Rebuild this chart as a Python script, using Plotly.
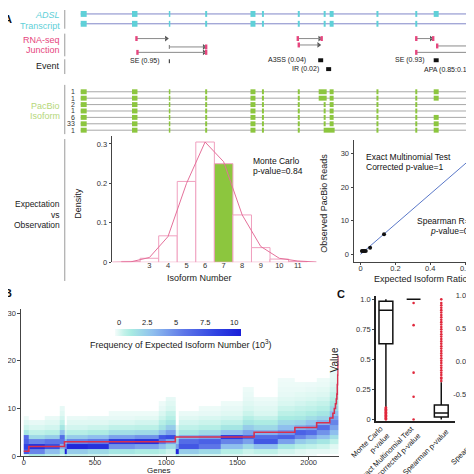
import plotly.graph_objects as go

FONT = "Liberation Sans, Arial, sans-serif"
S = 474.0


def X(p):
    return p / S


def Y(p):
    return 1 - p / S


# ---------------- Panel A : gene structure (positions in gene units) ----------------
exon_start = [0, 51.5, 88.5, 125, 170.5, 182, 218, 244, 250, 297, 336, 354.5, 239, 244]
exon_end = [6, 57, 90, 127, 175.5, 184, 220, 246, 254, 299, 338, 359.5, 247, 255]
gene_end = 401

transcript_rows = [4, 14]
transcript_exons = [[0, 1, 2, 3, 4, 5, 6, 7, 8, 9, 10, 11],
                    [0, 1, 2, 3, 4, 5, 6, 7, 8, 9, 10]]

junc_start = [56, 89, 57, 218, 219, 337, 358, 337]
junc_end = [86, 126, 126, 242, 239, 354, 401, 401]
junc_row = [29, 37.5, 43, 29, 35.5, 29, 36.5, 43]
junc_start_pink = [True, False, True, True, True, True, True, True]
junc_end_pink = [False, True, True, True, False, True, False, False]

event_text = ["SE (0.95)", "A3SS (0.04)", "IR (0.02)", "SE (0.93)", "APA (0.85:0.15)"]
event_text_end = [82, 228, 241, 348, 396]
event_row = [52, 51, 60, 51, 61]
event_mark = [89, 241, 249, 357, None]
event_mark_kind = ["tick", "box", "box", "box", None]

pacbio_counts = ["1", "1", "2", "1", "6", "33", "1"]
pacbio_rows = [83, 89.5, 96, 102.5, 109, 115.5, 122]
pacbio_exons = [
    [0, 1, 2, 3, 4, 5, 6, 12, 8, 9, 10, 11],
    [0, 1, 2, 3, 4, 5, 6, 12, 8, 9, 10, 11],
    [0, 1, 2, 3, 4, 5, 6, 7, 8, 9, 10],
    [0, 1, 2, 3, 4, 5, 6, 7, 8, 9, 10],
    [0, 1, 2, 3, 4, 5, 6, 7, 8, 9, 10, 11],
    [0, 1, 2, 3, 4, 5, 6, 7, 8, 9, 10, 11],
    [0, 1, 2, 3, 4, 5, 6, 13, 9, 10, 11],
]

# ---------------- Panel A : histogram (Monte Carlo) ----------------
hist_bins = [2, 3, 4, 5, 6, 7, 8, 9, 10, 11]
hist_density = [0.002, 0.01, 0.067, 0.205, 0.305, 0.25, 0.12, 0.037, 0.008, 0.002]
observed_number = 7
curve_x = [1, 2, 3, 4, 5, 6, 7, 8, 9, 10, 11, 12]
curve_y = [0, 0.001, 0.012, 0.065, 0.2, 0.305, 0.255, 0.12, 0.04, 0.01, 0.003, 0.0005]

# ---------------- Panel A : scatter ----------------
expected_ratio = [0.008, 0.015, 0.022, 0.03, 0.055, 0.135, 0.73]
observed_reads = [1, 1, 1, 1, 2, 6, 33]
fit_x = [0, 0.76]
fit_y = [0, 34.2]

# ---------------- Panel B : heatmap ----------------
block_edges = [0, 36, 150, 250, 286, 300, 450, 600, 780, 950, 1000, 1064, 1085,
               1230, 1380, 1540, 1617, 1780, 1903, 1980, 2056, 2148, 2210]
iso_levels = list(range(19))
block_freq = [
    [0.4, 7, 8, 6.5, 6, 1.5, 0.6, 0.3, 0.1],
    [1.2, 5, 9, 5, 2, 0.8, 0.4, 0.2],
    [0.8, 3, 7.5, 5.5, 2.5, 1, 0.5, 0.3, 0.15],
    [0.4, 1.5, 3.5, 5.5, 6, 3, 1.5, 0.8, 0.5, 0.3, 0.2],
    [1, 10, 5, 3, 1.5, 0.6, 0.3],
    [0.6, 2.5, 9.5, 5, 2.5, 1, 0.5, 0.3, 0.15],
    [0.5, 2, 9, 5.5, 3, 1.2, 0.6, 0.3, 0.2],
    [0.3, 1.5, 4.5, 8.5, 4, 1.8, 0.8, 0.4, 0.2, 0.1],
    [0.3, 1.2, 4, 9, 4.5, 2, 0.9, 0.5, 0.25, 0.1],
    [0.2, 1, 3, 5.5, 7, 3, 1.6, 1, 0.6, 0.4, 0.2, 0.1],
    [0.1, 0.6, 2, 4, 7.5, 4, 2.5, 1.5, 1, 0.7, 0.4, 0.3, 0.2],
    [0.8, 9.5, 4, 2.5, 1.2, 0.6, 0.3],
    [0.5, 2.5, 7, 6, 3.5, 1.5, 0.8, 0.5, 0.3, 0.15],
    [0.4, 2, 5.5, 6.5, 4, 2, 1, 0.6, 0.4, 0.2, 0.1],
    [0.3, 1, 3, 5, 8.5, 3, 1.5, 0.8, 0.5, 0.3, 0.2, 0.1],
    [0.2, 0.6, 2, 4, 6.5, 4, 2.5, 1.5, 1, 0.6, 0.4, 0.3, 0.2, 0.15, 0.1],
    [0.2, 0.8, 3, 7, 6, 3.5, 2, 1.2, 0.7, 0.4, 0.3, 0.2, 0.1],
    [0.1, 0.5, 1.5, 4, 6.5, 4.5, 3, 2, 1.3, 0.9, 0.6, 0.4, 0.3, 0.2, 0.15, 0.1, 0.08],
    [0.1, 0.3, 1, 2.5, 5, 6.5, 3.5, 2.2, 1.4, 1, 0.7, 0.5, 0.35, 0.25, 0.15, 0.1],
    [0.05, 0.2, 0.8, 2, 4, 6, 4, 2.8, 1.8, 1.2, 0.8, 0.6, 0.4, 0.3, 0.2, 0.12],
    [0, 0.2, 0.6, 1.5, 3, 4.5, 6, 3.5, 2.2, 1.5, 1, 0.7, 0.5, 0.35, 0.25, 0.15, 0.1],
    [0, 0.1, 0.3, 0.8, 1.8, 3, 4, 5, 4, 3, 2, 1.4, 1, 0.7, 0.5, 0.35, 0.25, 0.2, 0.15],
]
obs_gene_start = [0, 36, 286, 1064, 1617, 1903, 2056, 2148, 2170, 2180, 2188, 2194,
                  2198, 2201, 2204, 2206, 2208, 2210]
obs_level = [1, 2, 3, 4, 5, 6, 7, 8, 9, 10, 11, 12, 13, 15, 17, 19, 21, 21]
cbar_ticks = [0, 2.5, 5, 7.5, 10]
cbar_ticktext = ["0", "2.5", "5", "7.5", "10"]

# ---------------- Panel C / D : box plots ----------------
c_names = ["Monte Carlo p-value", "Exact Multinomial Test corrected p-value", "Spearman p-value"]
c_q1 = [0.63, 1.0, 0.02]
c_median = [0.91, 1.0, 0.055]
c_q3 = [0.985, 1.0, 0.12]
c_low = [0.1, 1.0, 0.0]
c_high = [1.0, 1.0, 0.31]
mc_outliers = [0.1, 0.095, 0.09, 0.085, 0.08, 0.075, 0.07, 0.065, 0.06, 0.055, 0.05,
               0.045, 0.04, 0.035, 0.03, 0.025, 0.02, 0.015, 0.01, 0.005, 0.0]
emt_outliers = [0.97, 0.785, 0.39, 0.19, 0.0]
sp_outliers = [0.32, 0.34, 0.35, 0.37, 0.39, 0.41, 0.43, 0.45, 0.47, 0.49, 0.51, 0.53,
               0.55, 0.57, 0.59, 0.61, 0.63, 0.65, 0.67, 0.69, 0.71, 0.73, 0.75, 0.77,
               0.79, 0.81, 0.83, 0.85, 0.87, 0.89, 0.91, 0.93, 0.95, 0.97, 1.0]
d_q1, d_median, d_q3, d_low, d_high = 0.56, 0.78, 0.93, -0.07, 1.0
d_outliers = [-0.08, -0.12, -0.17, -0.22, -0.27, -0.33, -0.38, -0.79]

# ---------------- colours ----------------
CYAN = "#5fd0d8"
PINK = "#e6467e"
GREEN = "#8cc63e"
LGREEN = "#b5d77a"
RED = "#e0283c"

fig = go.Figure()
shapes = []
annotations = []


def ann(text, x, y, size=8, color="#222", xa="center", ya="middle", angle=0, align="center"):
    annotations.append(dict(text=text, x=X(x), y=Y(y), xref="paper", yref="paper",
                            showarrow=False, xanchor=xa, yanchor=ya, textangle=angle,
                            align=align, font=dict(size=size, color=color, family=FONT)))


def rect(x0, x1, y0, y1, color, xref="x", yref="y"):
    shapes.append(dict(type="rect", xref=xref, yref=yref, x0=x0, x1=x1, y0=y0, y1=y1,
                       fillcolor=color, line=dict(width=0), layer="above"))


def hline(x0, x1, y, color, width=1):
    shapes.append(dict(type="line", xref="x", yref="y", x0=x0, x1=x1, y0=y, y1=y,
                       line=dict(color=color, width=width), layer="above"))


# transcripts
arrow_x, arrow_y = [], []
for row, ex in zip(transcript_rows, transcript_exons):
    hline(0, gene_end, row, "#8086c8")
    for i in ex:
        rect(exon_start[i], exon_end[i], row - 3, row + 3, CYAN)
    arrow_x.append(gene_end)
    arrow_y.append(row)

# junctions
for s, e, r, sp, ep in zip(junc_start, junc_end, junc_row, junc_start_pink, junc_end_pink):
    hline(s, e, r, "#8a8a8a")
    if sp:
        rect(s - 1.2, s + 1.2, r - 2.5, r + 2.5, PINK)
    else:
        shapes.append(dict(type="line", xref="x", yref="y", x0=s, x1=s, y0=r - 2, y1=r + 2,
                           line=dict(color="#777", width=1)))
    if ep:
        rect(e - 1.2, e + 1.2, r - 2.5, r + 2.5, PINK)
    arrow_x.append(e - 2 if ep else e)
    arrow_y.append(r)

# events
for t, te, r, m, k in zip(event_text, event_text_end, event_row, event_mark, event_mark_kind):
    annotations.append(dict(text=t, x=te, y=r, xref="x", yref="y", showarrow=False,
                            xanchor="right", yanchor="middle",
                            font=dict(size=7, color="#222", family=FONT)))
    if k == "tick":
        shapes.append(dict(type="line", xref="x", yref="y", x0=m, x1=m, y0=r - 2, y1=r + 2,
                           line=dict(color="#222", width=1)))
    elif k == "box":
        rect(m - 2.5, m + 2.5, r - 2, r + 2, "#111")

# PacBio isoforms
for row, ex, cnt in zip(pacbio_rows, pacbio_exons, pacbio_counts):
    hline(0, gene_end, row, "#a8a8a8")
    for i in ex:
        rect(exon_start[i], exon_end[i], row - 2.5, row + 2.5, GREEN)
    arrow_x.append(gene_end)
    arrow_y.append(row)
    annotations.append(dict(text=cnt, x=-5, y=row, xref="x", yref="y", showarrow=False,
                            xanchor="right", yanchor="middle", borderpad=0,
                            font=dict(size=7, color="#333", family=FONT)))

fig.add_trace(go.Scatter(x=arrow_x, y=arrow_y, mode="markers", xaxis="x", yaxis="y",
                         marker=dict(symbol="triangle-right", size=5, color="#555"),
                         hoverinfo="skip", showlegend=False))

# left labels + separators
ann("<i>ADSL</i>", 52, 5, 9, CYAN, xa="right")
ann("Transcript", 52, 16, 9, CYAN, xa="right")
ann("RNA-seq", 52, 30, 9, PINK, xa="right")
ann("Junction", 52, 41, 9, PINK, xa="right")
ann("Event", 52, 57, 9, "#222", xa="right")
ann("PacBio", 52, 97, 9, LGREEN, xa="right")
ann("Isoform", 52, 108, 9, LGREEN, xa="right")
ann("Expectation", 52, 197, 8.5, "#222", xa="right")
ann("vs", 52, 208, 8.5, "#222", xa="right")
ann("Observation", 52, 218, 8.5, "#222", xa="right")
for a, b in [(0, 19), (24, 47), (50, 65), (76, 126), (131, 275)]:
    shapes.append(dict(type="line", xref="paper", yref="paper", x0=X(55), x1=X(55),
                       y0=Y(a), y1=Y(b), line=dict(color="#9a9a9a", width=1)))

# ---------------- histogram ----------------
fig.add_trace(go.Bar(x=hist_bins, y=hist_density, width=1, xaxis="x2", yaxis="y2",
                     marker=dict(color=[GREEN if b == observed_number else "white" for b in hist_bins],
                                 line=dict(color="#f0a0bf", width=1)),
                     hoverinfo="skip", showlegend=False))
fig.add_trace(go.Scatter(x=curve_x, y=curve_y, mode="lines", xaxis="x2", yaxis="y2",
                         line=dict(color="#e4709a", width=1), hoverinfo="skip", showlegend=False))
ann("Monte Carlo", 242, 153, 8.5, "#111", xa="left")
ann("p-value=0.84", 242, 163, 8.5, "#111", xa="left")
ann("Density", 68, 196, 9, "#222", angle=-90)
ann("Isoform Number", 190, 272, 9, "#222")

# ---------------- scatter ----------------
fig.add_trace(go.Scatter(x=fit_x, y=fit_y, mode="lines", xaxis="x3", yaxis="y3",
                         line=dict(color="#5a78c8", width=1), hoverinfo="skip", showlegend=False))
fig.add_trace(go.Scatter(x=expected_ratio, y=observed_reads, mode="markers", xaxis="x3", yaxis="y3",
                         marker=dict(color="#111", size=4), hoverinfo="skip", showlegend=False))
ann("Exact Multinomial Test", 355, 149, 8.5, "#111", xa="left")
ann("Corrected p-value=1", 355, 159, 8.5, "#111", xa="left")
ann("Spearman R=0.97", 407, 214, 8.5, "#111", xa="left")
ann("<i>p</i>-value=0.005", 420, 224, 8.5, "#111", xa="left")
ann("Observed PacBio Reads", 315, 196, 9, "#222", angle=-90)
ann("Expected Isoform Ratio", 413, 273, 9, "#222")

# ---------------- heatmap ----------------
z = []
for lvl in iso_levels:
    rowz = []
    for prof in block_freq:
        v = prof[lvl] if lvl < len(prof) else 0
        rowz.append(v if v > 0 else None)
    z.append(rowz)

cscale = [[0, "#f4fcfb"], [0.03, "#e0f8f3"], [0.07, "#c4f2ea"], [0.13, "#a8ebe2"],
          [0.3, "#8fbfee"], [0.55, "#5d76e8"], [0.8, "#3043e2"], [1, "#1a1fd8"]]
fig.add_trace(go.Heatmap(x=block_edges, y=iso_levels, z=z, zmin=0, zmax=10,
                         colorscale=cscale, xaxis="x4", yaxis="y4", hoverinfo="skip",
                         colorbar=dict(orientation="h", x=X(105), xanchor="left",
                                       y=Y(324), yanchor="top", len=127 / S, lenmode="fraction",
                                       thickness=7, xpad=0, ypad=0, showticklabels=False,
                                       ticks="", outlinewidth=0)))
fig.add_trace(go.Scatter(x=obs_gene_start, y=obs_level, mode="lines", line_shape="hv",
                         xaxis="x4", yaxis="y4", line=dict(color="#d8304e", width=1.6),
                         hoverinfo="skip", showlegend=False))
for v, t in zip(cbar_ticks, cbar_ticktext):
    ann(t, 109 + v * 11.6, 317, 7.5, "#222")
ann("Frequency of Expected Isoform Number (10<sup>3</sup>)", 172, 339, 9, "#222")
ann("Genes", 150, 467.5, 8, "#222")

# ---------------- panel C ----------------
fig.add_trace(go.Box(x=[0, 1, 2], q1=c_q1, median=c_median, q3=c_q3, lowerfence=c_low,
                     upperfence=c_high, xaxis="x5", yaxis="y5", width=0.5, whiskerwidth=0,
                     fillcolor="white", line=dict(color="#111", width=1.5), boxpoints=False,
                     hoverinfo="skip", showlegend=False))
out_x = [0] * len(mc_outliers) + [1] * len(emt_outliers) + [2] * len(sp_outliers)
out_y = mc_outliers + emt_outliers + sp_outliers
fig.add_trace(go.Scatter(x=out_x, y=out_y, mode="markers", xaxis="x5", yaxis="y5",
                         marker=dict(color=RED, size=2.6), hoverinfo="skip", showlegend=False))
ann("Value", 326, 355, 10, "#222", angle=-90)
ann("Monte Carlo<br>p-value", 362, 442, 7.5, "#222", angle=-45, align="right")
ann("Exact Multinomial Test<br>corrected p-value", 381, 454, 7.5, "#222", angle=-45, align="right")
ann("Spearman p-value", 417, 449, 7.5, "#222", angle=-45)

# ---------------- panel D ----------------
fig.add_trace(go.Box(x=[0], q1=[d_q1], median=[d_median], q3=[d_q3], lowerfence=[d_low],
                     upperfence=[d_high], xaxis="x6", yaxis="y6", width=0.5, whiskerwidth=0,
                     fillcolor="white", line=dict(color="#444", width=1.5), boxpoints=False,
                     hoverinfo="skip", showlegend=False))
fig.add_trace(go.Scatter(x=[-0.05] * len(d_outliers), y=d_outliers, mode="markers",
                         xaxis="x6", yaxis="y6", marker=dict(color=RED, size=2.6),
                         hoverinfo="skip", showlegend=False))
ann("Spearman R", 459, 445, 7.5, "#222", angle=-45)

# panel letters
ann("<b>A</b>", 4, 9, 11, "#111", xa="right")
ann("<b>B</b>", 4, 287, 11, "#111", xa="right")
ann("<b>C</b>", 326, 288, 11, "#111", xa="left")


def ax(**kw):
    base = dict(showgrid=False, zeroline=False, showline=True, linecolor="#444", linewidth=1,
                ticks="outside", ticklen=2, tickcolor="#444",
                tickfont=dict(size=7.5, color="#333", family=FONT), fixedrange=True)
    base.update(kw)
    return base


fig.update_layout(
    width=474, height=474, margin=dict(l=0, r=0, t=0, b=0),
    paper_bgcolor="white", plot_bgcolor="rgba(0,0,0,0)", showlegend=False,
    font=dict(family=FONT),
    xaxis=dict(domain=[0, 1], range=[-71, 403], visible=False, fixedrange=True),
    yaxis=dict(domain=[0, 1], range=[474, 0], visible=False, fixedrange=True),
    xaxis2=ax(domain=[X(102), X(312)], range=[0.96, 12.23], anchor="y2", showline=False,
              ticks="", tickvals=[3, 4, 5, 6, 7, 8, 9, 10, 11], ticklabelstandoff=-3),
    yaxis2=ax(domain=[Y(256), Y(128)], range=[0, 0.32], anchor="x2",
              tickvals=[0, 0.1, 0.2, 0.3], ticktext=["0", "0.1", "0.2", "0.3"]),
    xaxis3=ax(domain=[X(345), 1], range=[-0.04, 0.697], anchor="y3",
              tickvals=[0, 0.2, 0.4, 0.6], ticktext=["0", "0.2", "0.4", "0.6"],
              ticklabelstandoff=-3),
    yaxis3=ax(domain=[Y(256), Y(132)], range=[-2.35, 34.1], anchor="x3",
              tickvals=[0, 10, 20, 30]),
    xaxis4=ax(domain=[X(11.5), X(330)], range=[-16, 2210], anchor="y4",
              tickvals=[0, 500, 1000, 1500, 2000], ticklen=3, ticklabelstandoff=-4),
    yaxis4=ax(domain=[Y(453), Y(303)], range=[-0.06, 31.0], anchor="x4",
              tickvals=[0, 10, 20, 30], ticklen=3),
    xaxis5=ax(domain=[X(367.5), X(447)], range=[-0.36, 2.5], anchor="y5",
              showticklabels=False, ticks="", linewidth=1.5, linecolor="#222"),
    yaxis5=ax(domain=[Y(417), Y(290)], range=[-0.011, 1.03], anchor="x5",
              tickvals=[0, 0.25, 0.5, 0.75, 1.0], ticktext=["0", "0.25", "0.5", "0.75", "1.0"],
              linewidth=1.5, linecolor="#222"),
    xaxis6=ax(domain=[X(463.3), 1], range=[-0.321, 0.071], anchor="y6",
              showticklabels=False, ticks="", showline=False),
    yaxis6=ax(domain=[Y(417), Y(287)], range=[-0.895, 1.04], anchor="x6",
              tickvals=[-0.5, 0, 0.5, 1.0], ticktext=["-0.5", "0.0", "0.5", "1.0"],
              linewidth=1.5, linecolor="#222"),
    shapes=shapes, annotations=annotations,
)

fig.write_html("out.html")
